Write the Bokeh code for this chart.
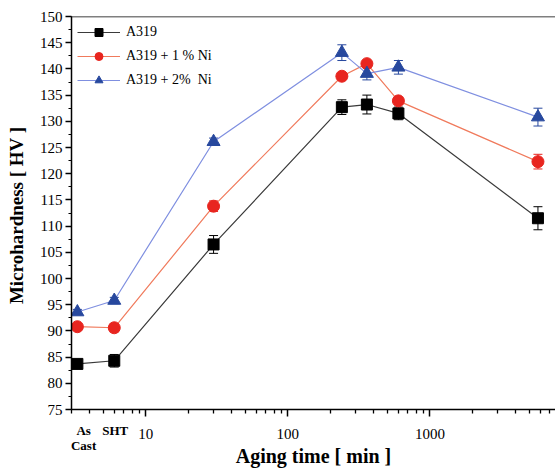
from bokeh.plotting import figure
from bokeh.models import (ColumnDataSource, Whisker, TeeHead, FixedTicker, SingleIntervalTicker,
                          Span, LogAxis, Range1d)
from bokeh.embed import file_html
from bokeh.resources import INLINE

# ---- data ----
times = [3.3, 6, 30, 240, 360, 600, 5760]
a319 = [83.7, 84.3, 106.5, 132.7, 133.2, 131.5, 111.5]
a319_err = [0.8, 1.2, 1.7, 1.4, 1.8, 1.2, 2.2]
ni1 = [90.8, 90.6, 113.8, 138.6, 141.0, 133.9, 122.3]
ni1_err = [0.5, 0.8, 1.0, 0.5, 0.5, 0.6, 1.4]
ni2 = [93.6, 95.8, 126.1, 143.1, 139.1, 140.3, 130.8]
ni2_err = [0.5, 0.6, 0.7, 1.5, 1.2, 1.3, 1.7]
series_names = ["A319", "A319 + 1 % Ni", "A319 + 2%  Ni"]
x_major = [10, 100, 1000]
x_minor = [3, 4, 5, 6, 7, 8, 9, 20, 30, 40, 50, 60, 70, 80, 90,
           200, 300, 400, 500, 600, 700, 800, 900, 2000, 3000, 4000, 5000, 6000, 7000]
state_ticks = [3.65, 6.1]
state_labels = ["As\nCast", "SHT"]

FONT = "Liberation Serif"

p = figure(width=555, height=469, x_axis_type="log", output_backend="svg",
           toolbar_location=None, x_range=Range1d(3, 7656), y_range=Range1d(75, 150),
           min_border_left=71, min_border_right=0, min_border_top=16, min_border_bottom=4)
p.outline_line_color = None
p.xgrid.visible = False
p.ygrid.visible = False
p.background_fill_color = "white"

p.add_layout(Span(location=150, dimension="width", line_color="black", line_width=1.3))

styles = [
    (a319, a319_err, "#000000", "#3a3a3a", "square", 11),
    (ni1, ni1_err, "#e8251f", "#f07a5c", "circle", 12),
    (ni2, ni2_err, "#27489e", "#7f8fe0", "triangle", 13),
]

for (vals, errs, mc, lc, marker, size), name in zip(styles, series_names):
    src = ColumnDataSource(dict(x=times, y=vals,
                                lo=[v - e for v, e in zip(vals, errs)],
                                hi=[v + e for v, e in zip(vals, errs)]))
    w = Whisker(source=src, base="x", upper="hi", lower="lo", line_color=mc, line_width=1,
                upper_head=TeeHead(size=9, line_color=mc, line_width=1),
                lower_head=TeeHead(size=9, line_color=mc, line_width=1))
    p.add_layout(w)
    p.line("x", "y", source=src, line_color=lc, line_width=1.2, legend_label=name)
    p.scatter("x", "y", source=src, marker=marker, size=size, fill_color=mc, line_color=mc,
              legend_label=name)

# main x axis
xa = p.xaxis[0]
xa.ticker = FixedTicker(ticks=x_major, minor_ticks=x_minor)
xa.major_label_overrides = {t: str(t) for t in x_major}
xa.major_label_text_font = FONT
xa.major_label_text_font_size = "15px"
xa.major_label_text_color = "black"
xa.major_label_standoff = 12
xa.major_tick_in = 0
xa.major_tick_out = 7
xa.minor_tick_in = 0
xa.minor_tick_out = 4
xa.axis_line_width = 1.5
xa.major_tick_line_width = 1.5
xa.minor_tick_line_width = 1.3

# second x axis carrying the sample-state labels and the title
xb = LogAxis(ticker=FixedTicker(ticks=state_ticks, minor_ticks=[]),
             major_label_overrides=dict(zip(state_ticks, state_labels)))
xb.axis_line_color = None
xb.major_tick_line_color = None
xb.minor_tick_line_color = None
xb.major_tick_in = 0
xb.major_tick_out = 0
xb.major_label_text_font = FONT
xb.major_label_text_font_style = "bold"
xb.major_label_text_font_size = "13px"
xb.major_label_text_color = "black"
xb.major_label_text_align = "center"
xb.major_label_text_line_height = 1.0
xb.major_label_standoff = -19
xb.axis_label = "Aging time [ min ]"
xb.axis_label_text_font = FONT
xb.axis_label_text_font_style = "bold"
xb.axis_label_text_font_size = "20px"
xb.axis_label_text_color = "black"
xb.axis_label_standoff = -11
p.add_layout(xb, "below")

ya = p.yaxis[0]
ya.ticker = SingleIntervalTicker(interval=5, num_minor_ticks=2)
ya.axis_label = "Microhardness  [ HV ]"
ya.axis_label_text_font = FONT
ya.axis_label_text_font_style = "bold"
ya.axis_label_text_font_size = "19px"
ya.axis_label_text_color = "black"
ya.axis_label_standoff = 10
ya.major_label_text_font = FONT
ya.major_label_text_font_size = "15px"
ya.major_label_text_color = "black"
ya.major_label_standoff = 3
ya.major_tick_in = 0
ya.major_tick_out = 6
ya.minor_tick_in = 0
ya.minor_tick_out = 3
ya.axis_line_width = 1.5
ya.major_tick_line_width = 1.3
ya.minor_tick_line_width = 1.2

lg = p.legend[0]
lg.location = "top_left"
lg.border_line_color = None
lg.background_fill_alpha = 0
lg.margin = 6
lg.padding = 1
lg.glyph_width = 43
lg.glyph_height = 20
lg.label_height = 20
lg.spacing = 4
lg.label_standoff = 6
lg.label_text_font = FONT
lg.label_text_font_size = "14px"
lg.label_text_color = "black"

open("out.html", "w").write(file_html(p, INLINE))
